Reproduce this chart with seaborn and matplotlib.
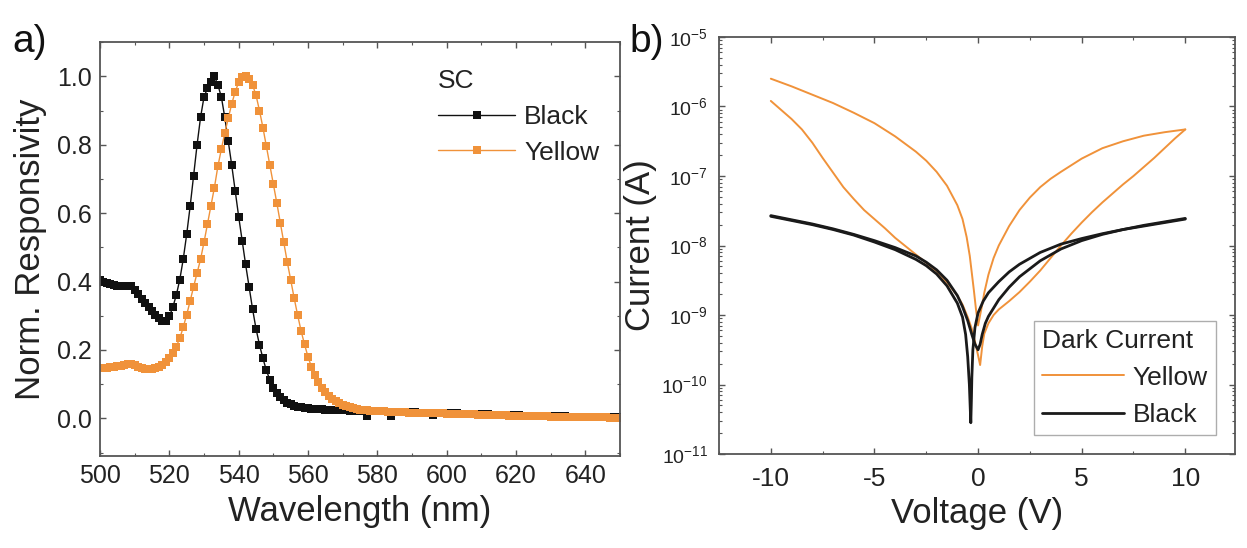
import numpy as np
import pandas as pd
import matplotlib
matplotlib.use("Agg")
import matplotlib.pyplot as plt
from matplotlib.ticker import MultipleLocator, LogLocator, NullFormatter
import seaborn as sns

# ---------------- data: panel a (normalised responsivity) ----------------
wavelength_nm = list(range(500, 651))
black_resp = [
    0.405, 0.400, 0.396, 0.392, 0.390, 0.388, 0.386, 0.386, 0.388, 0.386,
    0.376, 0.363, 0.350, 0.338, 0.326, 0.314, 0.302, 0.292, 0.286, 0.285,
    0.298, 0.325, 0.360, 0.405, 0.465, 0.538, 0.620, 0.710, 0.800, 0.880,
    0.940, 0.965, 0.985, 1.000, 0.975, 0.940, 0.880, 0.810, 0.740, 0.665,
    0.590, 0.520, 0.450, 0.385, 0.320, 0.262, 0.215, 0.175, 0.140, 0.112,
    0.090, 0.074, 0.062, 0.053, 0.046, 0.041, 0.037, 0.034, 0.032, 0.030,
    0.029, 0.028, 0.027, 0.026, 0.026, 0.025, 0.025, 0.024, 0.024, 0.023,
    0.023, 0.023, 0.022, 0.022, 0.022, 0.021, 0.021, 0.008, 0.021, 0.020,
    0.020, 0.020, 0.020, 0.019, 0.008, 0.019, 0.019, 0.019, 0.018, 0.018,
    0.018, 0.018, 0.017, 0.017, 0.017, 0.017, 0.009, 0.016, 0.016, 0.016,
    0.016, 0.015, 0.015, 0.015, 0.014, 0.014, 0.014, 0.013, 0.013, 0.013,
    0.012, 0.012, 0.012, 0.011, 0.011, 0.011, 0.010, 0.010, 0.010, 0.009,
    0.009, 0.009, 0.008, 0.008, 0.008, 0.008, 0.007, 0.007, 0.007, 0.007,
    0.006, 0.006, 0.006, 0.006, 0.006, 0.005, 0.005, 0.005, 0.005, 0.005,
    0.005, 0.004, 0.004, 0.004, 0.004, 0.004, 0.004, 0.003, 0.003, 0.003, 0.003,
]
yellow_resp = [
    0.146, 0.147, 0.148, 0.150, 0.151, 0.152, 0.154, 0.157, 0.160, 0.160,
    0.156, 0.151, 0.147, 0.144, 0.143, 0.144, 0.146, 0.150, 0.156, 0.164,
    0.175, 0.190, 0.210, 0.234, 0.266, 0.303, 0.343, 0.385, 0.425, 0.465,
    0.515, 0.568, 0.620, 0.675, 0.737, 0.787, 0.835, 0.878, 0.920, 0.955,
    0.983, 0.998, 1.000, 0.992, 0.975, 0.945, 0.900, 0.850, 0.795, 0.740,
    0.685, 0.630, 0.572, 0.515, 0.458, 0.405, 0.352, 0.302, 0.256, 0.216,
    0.180, 0.150, 0.126, 0.106, 0.090, 0.077, 0.066, 0.057, 0.050, 0.044,
    0.039, 0.035, 0.032, 0.029, 0.027, 0.025, 0.024, 0.023, 0.022, 0.021,
    0.021, 0.020, 0.020, 0.019, 0.019, 0.019, 0.018, 0.018, 0.018, 0.017,
    0.017, 0.017, 0.017, 0.016, 0.016, 0.016, 0.015, 0.015, 0.015, 0.015,
    0.014, 0.014, 0.014, 0.013, 0.013, 0.013, 0.012, 0.012, 0.012, 0.011,
    0.011, 0.011, 0.010, 0.010, 0.010, 0.009, 0.009, 0.009, 0.008, 0.008,
    0.008, 0.008, 0.007, 0.007, 0.007, 0.007, 0.006, 0.006, 0.006, 0.006,
    0.005, 0.005, 0.005, 0.005, 0.005, 0.004, 0.004, 0.004, 0.004, 0.004,
    0.004, 0.003, 0.003, 0.003, 0.003, 0.003, 0.003, 0.002, 0.002, 0.002, 0.002,
]

# ---------------- data: panel b (dark current, log10 of |I| in A) ----------------
yellow_fwd_V = [-10, -9, -8, -7, -6, -5, -4, -3, -2.5, -2, -1.5, -1.0, -0.75, -0.55, -0.4,
                -0.3, -0.2, -0.1, 0.0, 0.1, 0.2, 0.3, 0.5, 0.75, 1.0, 1.5, 2.0, 2.5, 3.0,
                3.5, 4.0, 5.0, 6.0, 7.0, 8.0, 9.0, 10.0]
yellow_fwd_logI = [-5.60, -5.71, -5.83, -5.95, -6.09, -6.24, -6.43, -6.65, -6.78, -6.94,
                   -7.14, -7.42, -7.62, -7.88, -8.15, -8.40, -8.65, -8.92, -9.15, -9.00,
                   -8.85, -8.68, -8.42, -8.18, -8.00, -7.72, -7.49, -7.31, -7.16, -7.04,
                   -6.94, -6.75, -6.60, -6.50, -6.42, -6.37, -6.33]
yellow_rev_V = [-10, -9.5, -9, -8.5, -8, -7.5, -7, -6.5, -6, -5.5, -5, -4.5, -4, -3.5, -3,
                -2.5, -2, -1.5, -1.0, -0.75, -0.5, -0.3, -0.15, 0.0, 0.1, 0.2, 0.3, 0.5,
                0.75, 1.0, 1.5, 2.0, 2.5, 3.0, 3.5, 4.0, 4.5, 5.0, 5.5, 6.0, 6.5, 7.0,
                7.5, 8.0, 8.5, 9.0, 9.5, 10]
yellow_rev_logI = [-5.92, -6.05, -6.18, -6.33, -6.52, -6.74, -6.95, -7.16, -7.33, -7.49,
                   -7.62, -7.75, -7.89, -8.01, -8.13, -8.25, -8.37, -8.53, -8.72, -8.85,
                   -9.03, -9.20, -9.38, -9.58, -9.72, -9.45, -9.27, -9.12, -9.00, -8.92,
                   -8.80, -8.67, -8.52, -8.36, -8.18, -8.00, -7.83, -7.67, -7.52, -7.38,
                   -7.25, -7.12, -7.00, -6.87, -6.74, -6.60, -6.46, -6.33]
black_fwd_V = [-10, -9, -8, -7, -6, -5, -4, -3, -2.5, -2, -1.5, -1.0, -0.75, -0.6, -0.5,
               -0.42, -0.37, -0.35, -0.32, -0.3, -0.25, -0.15, 0.0, 0.25, 0.5, 1.0, 1.5,
               2.0, 3.0, 4.0, 5.0, 6.0, 7.0, 8.0, 9.0, 10.0]
black_fwd_logI = [-7.58, -7.64, -7.70, -7.77, -7.85, -7.95, -8.06, -8.20, -8.29, -8.41,
                  -8.58, -8.83, -9.03, -9.28, -9.60, -10.0, -10.4, -10.55, -10.2, -9.9,
                  -9.5, -9.18, -8.97, -8.80, -8.68, -8.52, -8.38, -8.27, -8.10, -7.98,
                  -7.90, -7.83, -7.77, -7.72, -7.67, -7.62]
black_rev_V = [-10, -9, -8, -7, -6, -5, -4, -3, -2.5, -2, -1.5, -1.0, -0.75, -0.5, -0.3,
               -0.15, 0.0, 0.1, 0.2, 0.35, 0.5, 0.75, 1.0, 1.5, 2.0, 3.0, 4.0, 5.0, 6.0,
               7.0, 8.0, 9.0, 10.0]
black_rev_logI = [-7.57, -7.63, -7.69, -7.76, -7.84, -7.93, -8.03, -8.15, -8.24, -8.35,
                  -8.50, -8.72, -8.88, -9.08, -9.28, -9.42, -9.50, -9.42, -9.28, -9.12,
                  -9.02, -8.90, -8.78, -8.60, -8.45, -8.22, -8.05, -7.93, -7.84, -7.77,
                  -7.71, -7.66, -7.61]

series_a = ["Black", "Yellow"]
series_b = ["Yellow", "Black"]
ORANGE = "#F0923A"
BLACK = "#111111"

# ---------------- style ----------------
sns.set_theme(style="ticks")
plt.rcParams.update({
    "font.family": ["Liberation Sans", "DejaVu Sans"],
    "mathtext.fontset": "custom",
    "mathtext.rm": "Liberation Sans",
    "mathtext.it": "Liberation Sans",
    "mathtext.default": "regular",
    "axes.unicode_minus": False,
    "xtick.direction": "in", "ytick.direction": "in",
    "xtick.top": True, "ytick.right": True,
    "xtick.major.size": 4, "ytick.major.size": 4,
    "xtick.minor.size": 2.5, "ytick.minor.size": 2.5,
    "xtick.major.width": 1.0, "ytick.major.width": 1.0,
    "xtick.minor.width": 0.8, "ytick.minor.width": 0.8,
    "axes.edgecolor": "#555555", "axes.linewidth": 1.3,
    "xtick.color": "#555555", "ytick.color": "#555555",
    "xtick.labelcolor": "#222222", "ytick.labelcolor": "#222222",
    "text.color": "#222222", "axes.labelcolor": "#222222",
})

fig = plt.figure(figsize=(12.47, 5.48), dpi=100)
ax1 = fig.add_axes([0.0802, 0.168, 0.417, 0.755])
ax2 = fig.add_axes([0.5766, 0.1715, 0.4138, 0.761])

# ---------------- panel a ----------------
dfa = pd.DataFrame({
    "Wavelength": wavelength_nm * 2,
    "Resp": black_resp + yellow_resp,
    "Sample": ["Black"] * len(wavelength_nm) + ["Yellow"] * len(wavelength_nm),
})
sns.lineplot(data=dfa, x="Wavelength", y="Resp", hue="Sample", hue_order=series_a,
             palette={"Black": BLACK, "Yellow": ORANGE}, marker="s", markersize=6,
             markeredgewidth=0, linewidth=1.0, ax=ax1)
ax1.set_xlim(500, 650)
ax1.set_ylim(-0.11, 1.10)
ax1.xaxis.set_major_locator(MultipleLocator(20))
ax1.xaxis.set_minor_locator(MultipleLocator(10))
ax1.yaxis.set_major_locator(MultipleLocator(0.2))
ax1.yaxis.set_minor_locator(MultipleLocator(0.1))
ax1.yaxis.set_major_formatter(matplotlib.ticker.FormatStrFormatter("%.1f"))
ax1.tick_params(which="both", top=True, right=True)
ax1.tick_params(axis="x", labelsize=18, pad=6)
ax1.tick_params(axis="y", labelsize=18, pad=6)
ax1.set_xlabel("Wavelength (nm)", fontsize=25, labelpad=5)
ax1.set_ylabel("Norm. Responsivity", fontsize=25, labelpad=7)
h, l = ax1.get_legend_handles_labels()
ax1.legend(h, l, title="SC", loc="upper left", bbox_to_anchor=(0.615, 0.98),
           frameon=False, fontsize=19, title_fontsize=19, alignment="left",
           handlelength=2.9, handletextpad=0.35, labelspacing=0.45, borderpad=0.2)

# ---------------- panel b ----------------
rows = []
for name, sweep, vs, ls in [("Yellow", "Y1", yellow_fwd_V, yellow_fwd_logI),
                            ("Yellow", "Y2", yellow_rev_V, yellow_rev_logI),
                            ("Black", "B1", black_fwd_V, black_fwd_logI),
                            ("Black", "B2", black_rev_V, black_rev_logI)]:
    for v, li in zip(vs, ls):
        rows.append({"V": v, "I": 10.0 ** li, "Sample": name, "Sweep": sweep})
dfb = pd.DataFrame(rows)
sns.lineplot(data=dfb, x="V", y="I", hue="Sample", hue_order=series_b,
             size="Sample", sizes={"Yellow": 1.4, "Black": 2.0},
             units="Sweep", estimator=None, sort=False,
             palette={"Yellow": ORANGE, "Black": "#1a1a1a"}, ax=ax2)
ax2.set_yscale("log")
ax2.set_ylim(1e-11, 1e-5)
ax2.set_xlim(-12.5, 12.4)
ax2.xaxis.set_major_locator(MultipleLocator(5))
ax2.xaxis.set_minor_locator(MultipleLocator(2.5))
ax2.yaxis.set_major_locator(LogLocator(base=10, numticks=20))
ax2.yaxis.set_minor_locator(LogLocator(base=10, subs=np.arange(2, 10), numticks=20))
ax2.yaxis.set_minor_formatter(NullFormatter())
ax2.tick_params(which="both", top=True, right=True)
ax2.tick_params(axis="x", labelsize=19, pad=9)
ax2.tick_params(axis="y", labelsize=14, pad=8)
ax2.set_xlabel("Voltage (V)", fontsize=25, labelpad=5)
ax2.set_ylabel("Current (A)", fontsize=25, labelpad=3)
h, l = ax2.get_legend_handles_labels()
leg = ax2.legend(h, l, title="Dark Current", loc="lower right",
                 bbox_to_anchor=(0.963, 0.046), borderaxespad=0, frameon=True,
                 fancybox=False, edgecolor="#999999", fontsize=19, title_fontsize=19,
                 alignment="left", handlelength=3.1, handletextpad=0.35,
                 labelspacing=0.5, borderpad=0.3)
leg.get_frame().set_linewidth(1.0)

# panel letters
fig.text(0.010, 0.905, "a)", fontsize=28, color="#111111")
fig.text(0.505, 0.905, "b)", fontsize=28, color="#111111")

fig.savefig("out.png", dpi=100)
